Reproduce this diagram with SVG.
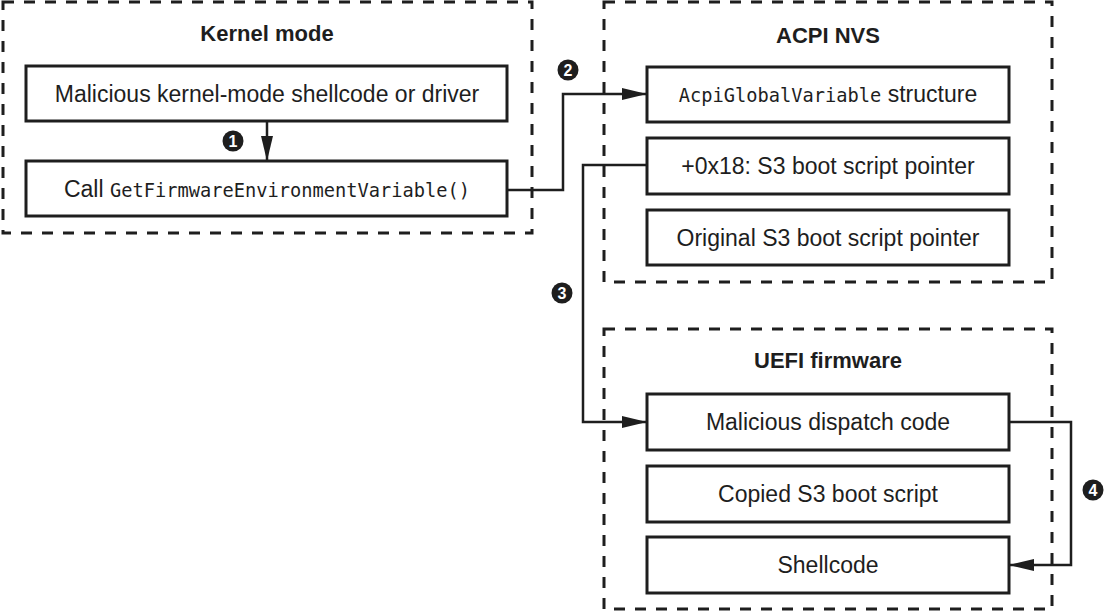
<svg xmlns="http://www.w3.org/2000/svg" width="1105" height="612" viewBox="0 0 1105 612">
  <style>
    .zone { fill: none; stroke: #1e1e1e; stroke-width: 3; stroke-dasharray: 11 10; }
    .box { fill: #ffffff; stroke: #1e1e1e; stroke-width: 3; }
    .title { font-family: "Liberation Sans", Arial, sans-serif; font-weight: bold; font-size: 22px; fill: #1e1e1e; text-anchor: middle; }
    .label { font-family: "Liberation Sans", Arial, sans-serif; font-size: 23px; fill: #1e1e1e; text-anchor: middle; }
    .mono { font-family: "DejaVu Sans Mono", "Liberation Mono", monospace; font-size: 18.7px; }
    .conn { fill: none; stroke: #1e1e1e; stroke-width: 2.5; }
    .num { fill: #1e1e1e; }
    .numtxt { font-family: "Liberation Sans", Arial, sans-serif; font-weight: bold; font-size: 16px; fill: #ffffff; text-anchor: middle; }
  </style>
  <defs>
    <marker id="arrow" markerUnits="userSpaceOnUse" markerWidth="26" markerHeight="14" refX="25" refY="7" orient="auto">
      <path d="M0,1 L25,7 L0,13 z" fill="#1e1e1e"/>
    </marker>
  </defs>

  <g id="kernel-mode">
    <rect class="zone" x="3" y="2" width="529" height="231"/>
    <text class="title" x="267" y="41">Kernel mode</text>
  </g>
  <g id="malicious-driver">
    <rect class="box" x="26" y="66" width="481" height="55"/>
    <text class="label" x="267" y="102">Malicious kernel-mode shellcode or driver</text>
  </g>
  <g id="call-getfirmware">
    <rect class="box" x="26" y="161" width="481" height="55"/>
    <text class="label" x="267" y="197">Call <tspan class="mono">GetFirmwareEnvironmentVariable()</tspan></text>
  </g>

  <g id="acpi-nvs">
    <rect class="zone" x="604" y="2" width="448" height="280"/>
    <text class="title" x="828" y="43">ACPI NVS</text>
  </g>
  <g id="acpi-global-variable">
    <rect class="box" x="647" y="67" width="362" height="55"/>
    <text class="label" x="828" y="102"><tspan class="mono">AcpiGlobalVariable</tspan> structure</text>
  </g>
  <g id="s3-pointer">
    <rect class="box" x="647" y="138" width="362" height="56"/>
    <text class="label" x="828" y="174">+0x18: S3 boot script pointer</text>
  </g>
  <g id="original-s3-pointer">
    <rect class="box" x="647" y="210" width="362" height="55"/>
    <text class="label" x="828" y="246">Original S3 boot script pointer</text>
  </g>

  <g id="uefi-firmware">
    <rect class="zone" x="604" y="329" width="448" height="280"/>
    <text class="title" x="828" y="368">UEFI firmware</text>
  </g>
  <g id="malicious-dispatch">
    <rect class="box" x="647" y="394" width="362" height="56"/>
    <text class="label" x="828" y="430">Malicious dispatch code</text>
  </g>
  <g id="copied-s3-script">
    <rect class="box" x="647" y="466" width="362" height="56"/>
    <text class="label" x="828" y="502">Copied S3 boot script</text>
  </g>
  <g id="shellcode">
    <rect class="box" x="647" y="537" width="362" height="56"/>
    <text class="label" x="828" y="573">Shellcode</text>
  </g>

  <g id="connectors">
    <path class="conn" d="M267,121 V161" marker-end="url(#arrow)"/>
    <path class="conn" d="M507,190 H563 V94 H647" marker-end="url(#arrow)"/>
    <path class="conn" d="M647,165 H583 V422 H647" marker-end="url(#arrow)"/>
    <path class="conn" d="M1009,422 H1071 V565 H1009" marker-end="url(#arrow)"/>
    <g id="step-1"><circle class="num" cx="233" cy="141" r="10.5"/><text class="numtxt" x="233" y="146.8">1</text></g>
    <g id="step-2"><circle class="num" cx="568" cy="70" r="10.5"/><text class="numtxt" x="568" y="75.8">2</text></g>
    <g id="step-3"><circle class="num" cx="562" cy="293" r="10.5"/><text class="numtxt" x="562" y="298.8">3</text></g>
    <g id="step-4"><circle class="num" cx="1093" cy="490" r="10.5"/><text class="numtxt" x="1093" y="495.8">4</text></g>
  </g>
</svg>
